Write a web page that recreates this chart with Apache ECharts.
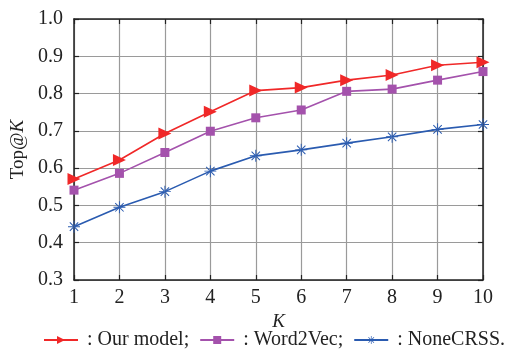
<!DOCTYPE html>
<html><head><meta charset="utf-8">
<script src="https://cdn.jsdelivr.net/npm/echarts@6/dist/echarts.min.js"></script>
<style>html,body{margin:0;padding:0;background:#fff}#c{width:513px;height:356px}</style>
</head><body><div id="c"></div>
<script>
var kValues = [1,2,3,4,5,6,7,8,9,10];
var ourModel = [0.571,0.622,0.693,0.751,0.808,0.816,0.836,0.850,0.876,0.884];
var word2vec = [0.541,0.586,0.642,0.699,0.735,0.756,0.806,0.812,0.836,0.859];
var noneCRSS = [0.443,0.495,0.537,0.592,0.633,0.649,0.667,0.684,0.704,0.717];
var seriesNames = [': Our model;', ': Word2Vec;', ': NoneCRSS.'];

function pairs(arr){ return kValues.map(function(k,i){ return [k, arr[i]]; }); }
var FONT = '"Liberation Serif","DejaVu Serif",serif';
var star = 'path://M-0.8,-10L0.8,-10L0.8,10L-0.8,10Z M-10,-0.8L10,-0.8L10,0.8L-10,0.8Z M-7.6,-6.4L6.4,7.6L7.6,6.4L-6.4,-7.6Z M6.4,-7.6L-7.6,6.4L-6.4,7.6L7.6,-6.4Z';

var chart = echarts.init(document.getElementById('c'));
var axisLine = {show:true, lineStyle:{color:'#222', width:1.5}};
var tick = {show:true, inside:true, length:5, lineStyle:{color:'#222', width:1.2}};
chart.setOption({
  animation:false,
  backgroundColor:'#fff',
  grid:{left:74, right:30, top:19, bottom:76},
  legend:{
    bottom:1, left:38, itemWidth:34, itemHeight:10, itemGap:10,
    textStyle:{fontFamily:FONT, fontSize:20, color:'#222', padding:[0,0,0,4]},
    data:seriesNames
  },
  xAxis:[{
    type:'value', min:1, max:10, interval:1,
    name:'K', nameLocation:'middle', nameGap:32,
    nameTextStyle:{fontFamily:FONT, fontSize:19, fontStyle:'italic', color:'#222'},
    axisLine:axisLine, axisTick:tick,
    axisLabel:{fontFamily:FONT, fontSize:20, color:'#222', margin:8},
    splitLine:{show:true, lineStyle:{color:'#9a9a9a', width:1.2}}
  },{
    type:'value', min:1, max:10, interval:1, position:'top',
    axisLine:axisLine, axisTick:tick, axisLabel:{show:false}, splitLine:{show:false}
  }],
  yAxis:[{
    type:'value', min:0.3, max:1.0, interval:0.1,
    name:'Top@{i|K}', nameLocation:'middle', nameGap:45, nameRotate:90,
    nameTextStyle:{fontFamily:FONT, fontSize:19, color:'#222',
      rich:{i:{fontFamily:FONT, fontSize:19, fontStyle:'italic', color:'#222'}}},
    axisLine:axisLine, axisTick:tick,
    axisLabel:{fontFamily:FONT, fontSize:20, color:'#222', margin:11,
      formatter:function(v){return v.toFixed(1);}},
    splitLine:{show:true, lineStyle:{color:'#9a9a9a', width:1.2}}
  },{
    type:'value', min:0.3, max:1.0, interval:0.1, position:'right',
    axisLine:axisLine, axisTick:tick, axisLabel:{show:false}, splitLine:{show:false}
  }],
  series:[{
    name:seriesNames[0], type:'line', data:pairs(ourModel),
    symbol:'triangle', symbolRotate:-90, symbolSize:[12,13],
    itemStyle:{color:'#f02828'}, lineStyle:{color:'#f02828', width:1.6}
  },{
    name:seriesNames[1], type:'line', data:pairs(word2vec),
    symbol:'rect', symbolSize:9,
    itemStyle:{color:'#a452ac'}, lineStyle:{color:'#a452ac', width:1.6}
  },{
    name:seriesNames[2], type:'line', data:pairs(noneCRSS),
    symbol:star, symbolSize:12,
    itemStyle:{color:'#2a5bb0'}, lineStyle:{color:'#2a5bb0', width:1.6}
  }]
});
</script></body></html>
